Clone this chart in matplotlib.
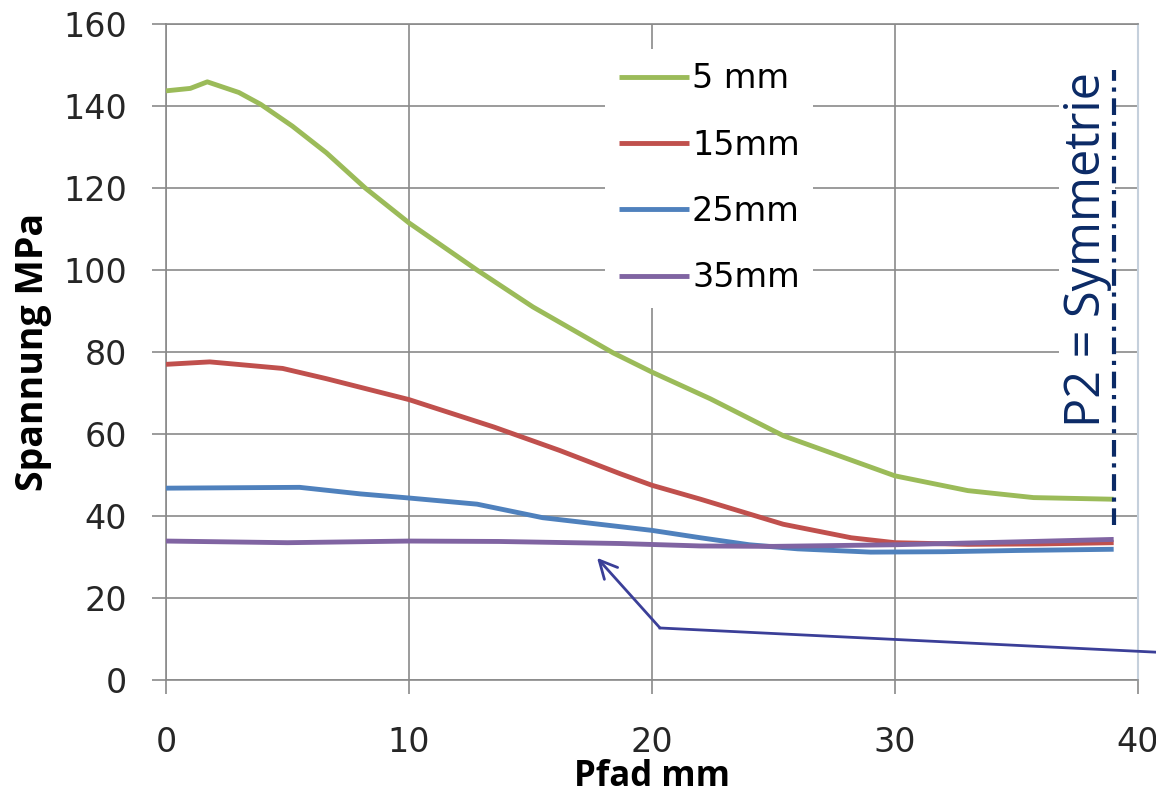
import numpy as np
import matplotlib.pyplot as plt

# values
x_5 = [0, 1, 1.7, 3, 3.9, 5.2, 6.6, 8.2, 10, 12.8, 15.1, 18.4, 20, 22.4, 25.4, 30, 33, 35.7, 39]
y_5 = [143.7, 144.3, 145.9, 143.3, 140.4, 135.1, 128.6, 120, 111.5, 100, 91, 79.8, 75.1, 68.6, 59.6, 49.8, 46.2, 44.5, 44.1]

x_15 = [0, 1.8, 4.8, 6.6, 10, 13.5, 16.2, 18.7, 20, 22, 25.4, 28.2, 30, 33, 36, 39]
y_15 = [77.0, 77.6, 76.0, 73.5, 68.4, 61.7, 56, 50.3, 47.5, 44.1, 38.0, 34.7, 33.5, 33.1, 33.2, 33.5]

x_25 = [0, 5.5, 8, 10, 12.8, 15.5, 18.7, 20, 22, 24, 26, 29, 32, 35, 39]
y_25 = [46.8, 47.0, 45.4, 44.4, 42.9, 39.6, 37.4, 36.5, 34.7, 33.0, 32.0, 31.2, 31.3, 31.6, 31.9]

x_35 = [0, 5, 10, 13.7, 18.7, 22, 25, 30, 35, 39]
y_35 = [33.9, 33.5, 33.9, 33.8, 33.3, 32.7, 32.6, 33.0, 33.7, 34.3]

labels = ['5 mm', '15mm', '25mm', '35mm']
colors = ['#9BBB59', '#C0504D', '#4F81BD', '#8064A2']

fig = plt.figure(figsize=(11.56, 8.01), dpi=100)
ax = fig.add_axes([0.1436, 0.151, 0.8408, 0.819])

for xs, ys, lab, c in zip([x_5, x_15, x_25, x_35], [y_5, y_15, y_25, y_35], labels, colors):
    ax.plot(xs, ys, color=c, lw=3.5, label=lab, solid_capstyle='butt',
            solid_joinstyle='round', zorder=3)

ax.set_xlim(0, 40)
ax.set_ylim(0, 160)
ax.set_xticks([0, 10, 20, 30, 40])
ax.set_yticks(range(0, 161, 20))
ax.grid(True, color='#8a8a8a', lw=1.2)
ax.set_axisbelow(True)
ax.tick_params(direction='out', length=10, width=1.2, color='#8a8a8a',
               labelsize=24, labelcolor='#262626')
ax.tick_params(axis='x', pad=23)
ax.tick_params(axis='y', pad=18)
for s in ['left', 'bottom', 'top']:
    ax.spines[s].set_color('#8a8a8a')
    ax.spines[s].set_linewidth(1.2)
ax.spines['right'].set_color('#c5d0dc')
ax.spines['right'].set_linewidth(1.5)

ax.set_xlabel('Pfad mm', fontsize=25, fontweight='bold', family='Open Sans', labelpad=0)
ax.set_ylabel('Spannung MPa', fontsize=27, fontweight='bold', family='Open Sans', labelpad=8)

leg = ax.legend(loc='upper left', bbox_to_anchor=(0.452, 0.962), frameon=True,
                fontsize=24, handlelength=2.1, handletextpad=0.1, labelspacing=1.0,
                borderpad=0.4, borderaxespad=0)
leg.get_frame().set_facecolor('white')
leg.get_frame().set_edgecolor('none')
leg.get_frame().set_alpha(1)
leg.set_zorder(4)

# symmetry line and label
ax.plot([39, 39], [37.8, 148.8], color='#0B2A66', lw=3, linestyle=(0, (4, 1.6, 1, 1.6)), zorder=5)
ax.text(37.9, 105, 'P2 = Symmetrie', rotation=90, fontsize=35, color='#0B2A66',
        family='Open Sans', ha='center', va='center', zorder=4,
        bbox=dict(facecolor='white', edgecolor='none', pad=2))

# arrow pointing at the 35mm curve
arrow_c = '#3B3F98'
ax.plot([40.74, 20.33], [6.8, 12.7], color=arrow_c, lw=2, clip_on=False, zorder=5)
ax.annotate('', xy=(17.74, 29.8), xytext=(20.33, 12.7),
            arrowprops=dict(arrowstyle='->', color=arrow_c, lw=2, mutation_scale=32,
                            shrinkA=0, shrinkB=0), zorder=5)

fig.savefig('out.png', dpi=100)
